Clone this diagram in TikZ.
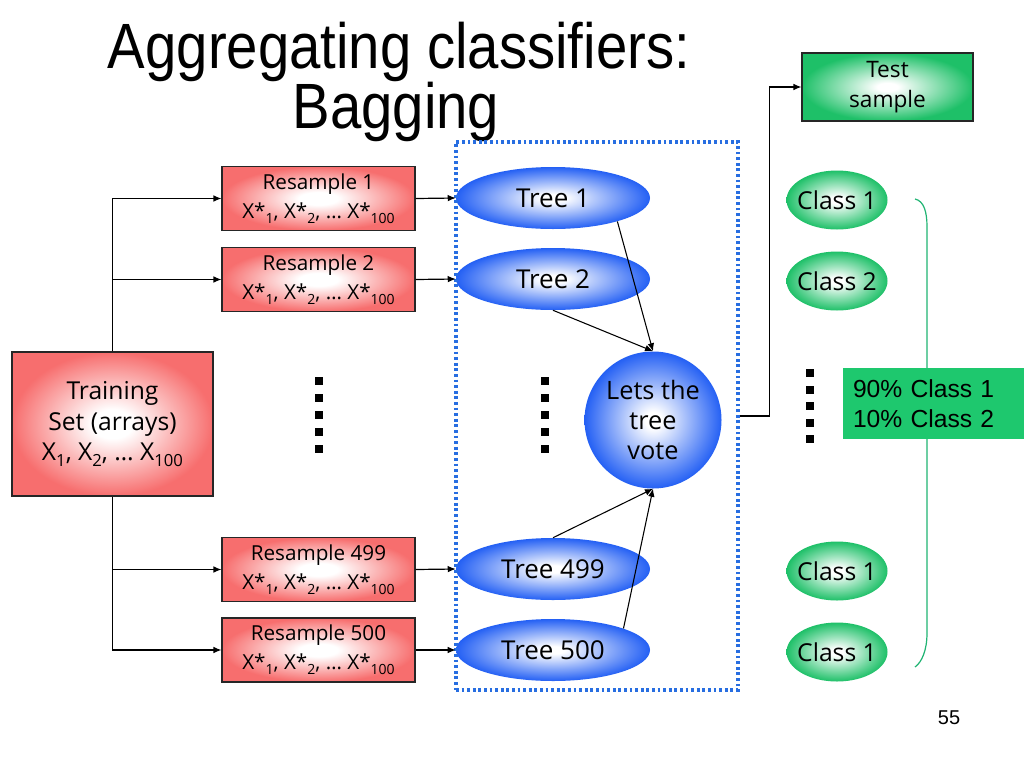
\documentclass[tikz,border=0pt]{standalone}
\usepackage{fontspec}
\setmainfont{Open Sans}
\newfontfamily\titlefont[FakeStretch=0.88]{Liberation Sans}
\newfontfamily\arialfont{Liberation Sans}
\usetikzlibrary{arrows.meta,shapes.geometric}
\definecolor{redfill}{RGB}{247,110,110}
\definecolor{bluefill}{RGB}{36,96,244}
\definecolor{greenfill}{RGB}{30,192,104}
\definecolor{resgreen}{RGB}{30,200,110}
\definecolor{framecol}{RGB}{40,110,225}
\definecolor{bracecol}{RGB}{32,180,115}
\pgfdeclareradialshading{redglow}{\pgfpointorigin}{color(0bp)=(white); color(5bp)=(white); color(25bp)=(redfill); color(50bp)=(redfill)}
\pgfdeclareradialshading{blueglow}{\pgfpointorigin}{color(0bp)=(white); color(3bp)=(white); color(25bp)=(bluefill); color(50bp)=(bluefill)}
\pgfdeclareradialshading{greenglow}{\pgfpointorigin}{color(0bp)=(white); color(3bp)=(white); color(25bp)=(greenfill); color(50bp)=(greenfill)}
\newcommand{\dn}[1]{\raisebox{-0.45ex}{\fontsize{10.5}{12}\selectfont #1}}
\newcommand{\dnb}[1]{\raisebox{-0.45ex}{\fontsize{12.5}{14}\selectfont #1}}
\begin{document}
\begin{tikzpicture}[x=0.75pt,y=-0.75pt,
  redbox/.style={draw=black!85, line width=0.8pt, shading=redglow, inner sep=0pt, align=center},
  resbox/.style={redbox, minimum width=144.75pt, minimum height=48pt, font=\fontsize{15.5}{21.5}\selectfont},
  treenode/.style={ellipse, shading=blueglow, minimum width=145.5pt, minimum height=46.5pt, inner sep=0pt, font=\fontsize{19.5}{22}\selectfont},
  classnode/.style={ellipse, shading=greenglow, minimum width=75.75pt, minimum height=44.25pt, inner xsep=-6pt, inner ysep=0pt, font=\fontsize{18.5}{22}\selectfont},
  arr/.style={-{Latex[length=6pt,width=5pt]}, line width=0.9pt, black},
  thin arr/.style={-{Latex[length=6pt,width=5pt]}, line width=0.8pt, black}]
\fill[white] (0,0) rectangle (1024,768);
\useasboundingbox (0,0) rectangle (1024,768);

% title
\node[font=\titlefont\fontsize{48}{45}\selectfont, anchor=base, inner sep=0pt] (title1) at (399,68) {Aggregating classifiers:};
\node[font=\titlefont\fontsize{48}{45}\selectfont, anchor=base, inner sep=0pt] (title2) at (396,128) {Bagging};

% training set
\node[redbox, minimum width=150.75pt, minimum height=108pt, font=\fontsize{18.5}{23}\selectfont] (train) at (112.5,424) {Training\\Set (arrays)\\X\dnb{1}, X\dnb{2}, … X\dnb{100}};

% resamples
\node[resbox] (res1) at (318.5,198.5) {Resample 1\\X*\dn{1}, X*\dn{2}, … X*\dn{100}};
\node[resbox] (res2) at (318.5,279.5) {Resample 2\\X*\dn{1}, X*\dn{2}, … X*\dn{100}};
\node[resbox] (res499) at (318.5,569.5) {Resample 499\\X*\dn{1}, X*\dn{2}, … X*\dn{100}};
\node[resbox] (res500) at (318.5,650) {Resample 500\\X*\dn{1}, X*\dn{2}, … X*\dn{100}};

% trees
\node[treenode] (tree1) at (553,198) {Tree 1};
\node[treenode] (tree2) at (553,279) {Tree 2};
\node[treenode] (tree499) at (553,569) {Tree 499};
\node[treenode] (tree500) at (553,650) {Tree 500};

% vote
\node[circle, shading=blueglow, minimum size=102.75pt, inner sep=0pt, align=center, font=\fontsize{19}{22.5}\selectfont] (vote) at (653,420) {Lets the\\tree\\vote};

% frame
\node[draw=framecol, line width=2.6pt, dash pattern=on 2.1pt off 2.1pt, minimum width=211.5pt, minimum height=411pt, inner sep=0pt] (frame) at (597,416) {};

% test sample
\node[draw=black!85, line width=0.8pt, shading=greenglow, minimum width=128.25pt, minimum height=51pt, inner sep=0pt, align=center, font=\fontsize{17}{22.5}\selectfont] (test) at (887.5,87) {Test\\sample};

% classes
\node[classnode] (c1) at (837,200) {Class 1};
\node[classnode] (c2) at (837,281) {Class 2};
\node[classnode] (c499) at (837,571) {Class 1};
\node[classnode] (c500) at (837,652) {Class 1};

% brace
\draw[bracecol, line width=0.9pt] (915,199) .. controls (924,201) and (927,212) .. (927,227) -- (927,633) .. controls (927,650) and (922,662) .. (915,667);

% result box
\node[fill=resgreen, text width=120.75pt, inner xsep=7.5pt, inner ysep=0pt, minimum height=53.25pt, align=left, font=\arialfont\fontsize{18.5}{22.5}\selectfont] (result) at (933.5,403.5) {90\% Class 1\\10\% Class 2};

% page number
\node[font=\arialfont\fontsize{15}{18}\selectfont] (page) at (949,718) {55};

% dots
\foreach \xx in {314.5,541}{
  \foreach \yy in {381,398,415,432,449} \fill (\xx,\yy-4) rectangle ++(8,8);
}
\foreach \yy in {373,390,406,423,439} \fill (806,\yy-4) rectangle ++(8,8);

% connectors
\draw[arr] (train.north) |- (res1.west);
\draw[arr] (train.north) |- (res2.west);
\draw[arr] (train.south) |- (res499.west);
\draw[arr] (train.south) |- (res500.west);
\draw[arr] (res1.east) -- (tree1.west);
\draw[arr] (res2.east) -- (tree2.west);
\draw[arr] (res499.east) -- (tree499.west);
\draw[arr] (res500.east) -- (tree500.west);
\draw[thin arr] (tree1.-20) -- (vote.north);
\draw[thin arr] (tree2.south) -- (vote.north);
\draw[thin arr] (tree499.north) -- (vote.south);
\draw[thin arr] (tree500.17) -- (vote.south);
\draw[arr] (frame.east) -- ++(30,0) |- (test.west);
\end{tikzpicture}
\end{document}
